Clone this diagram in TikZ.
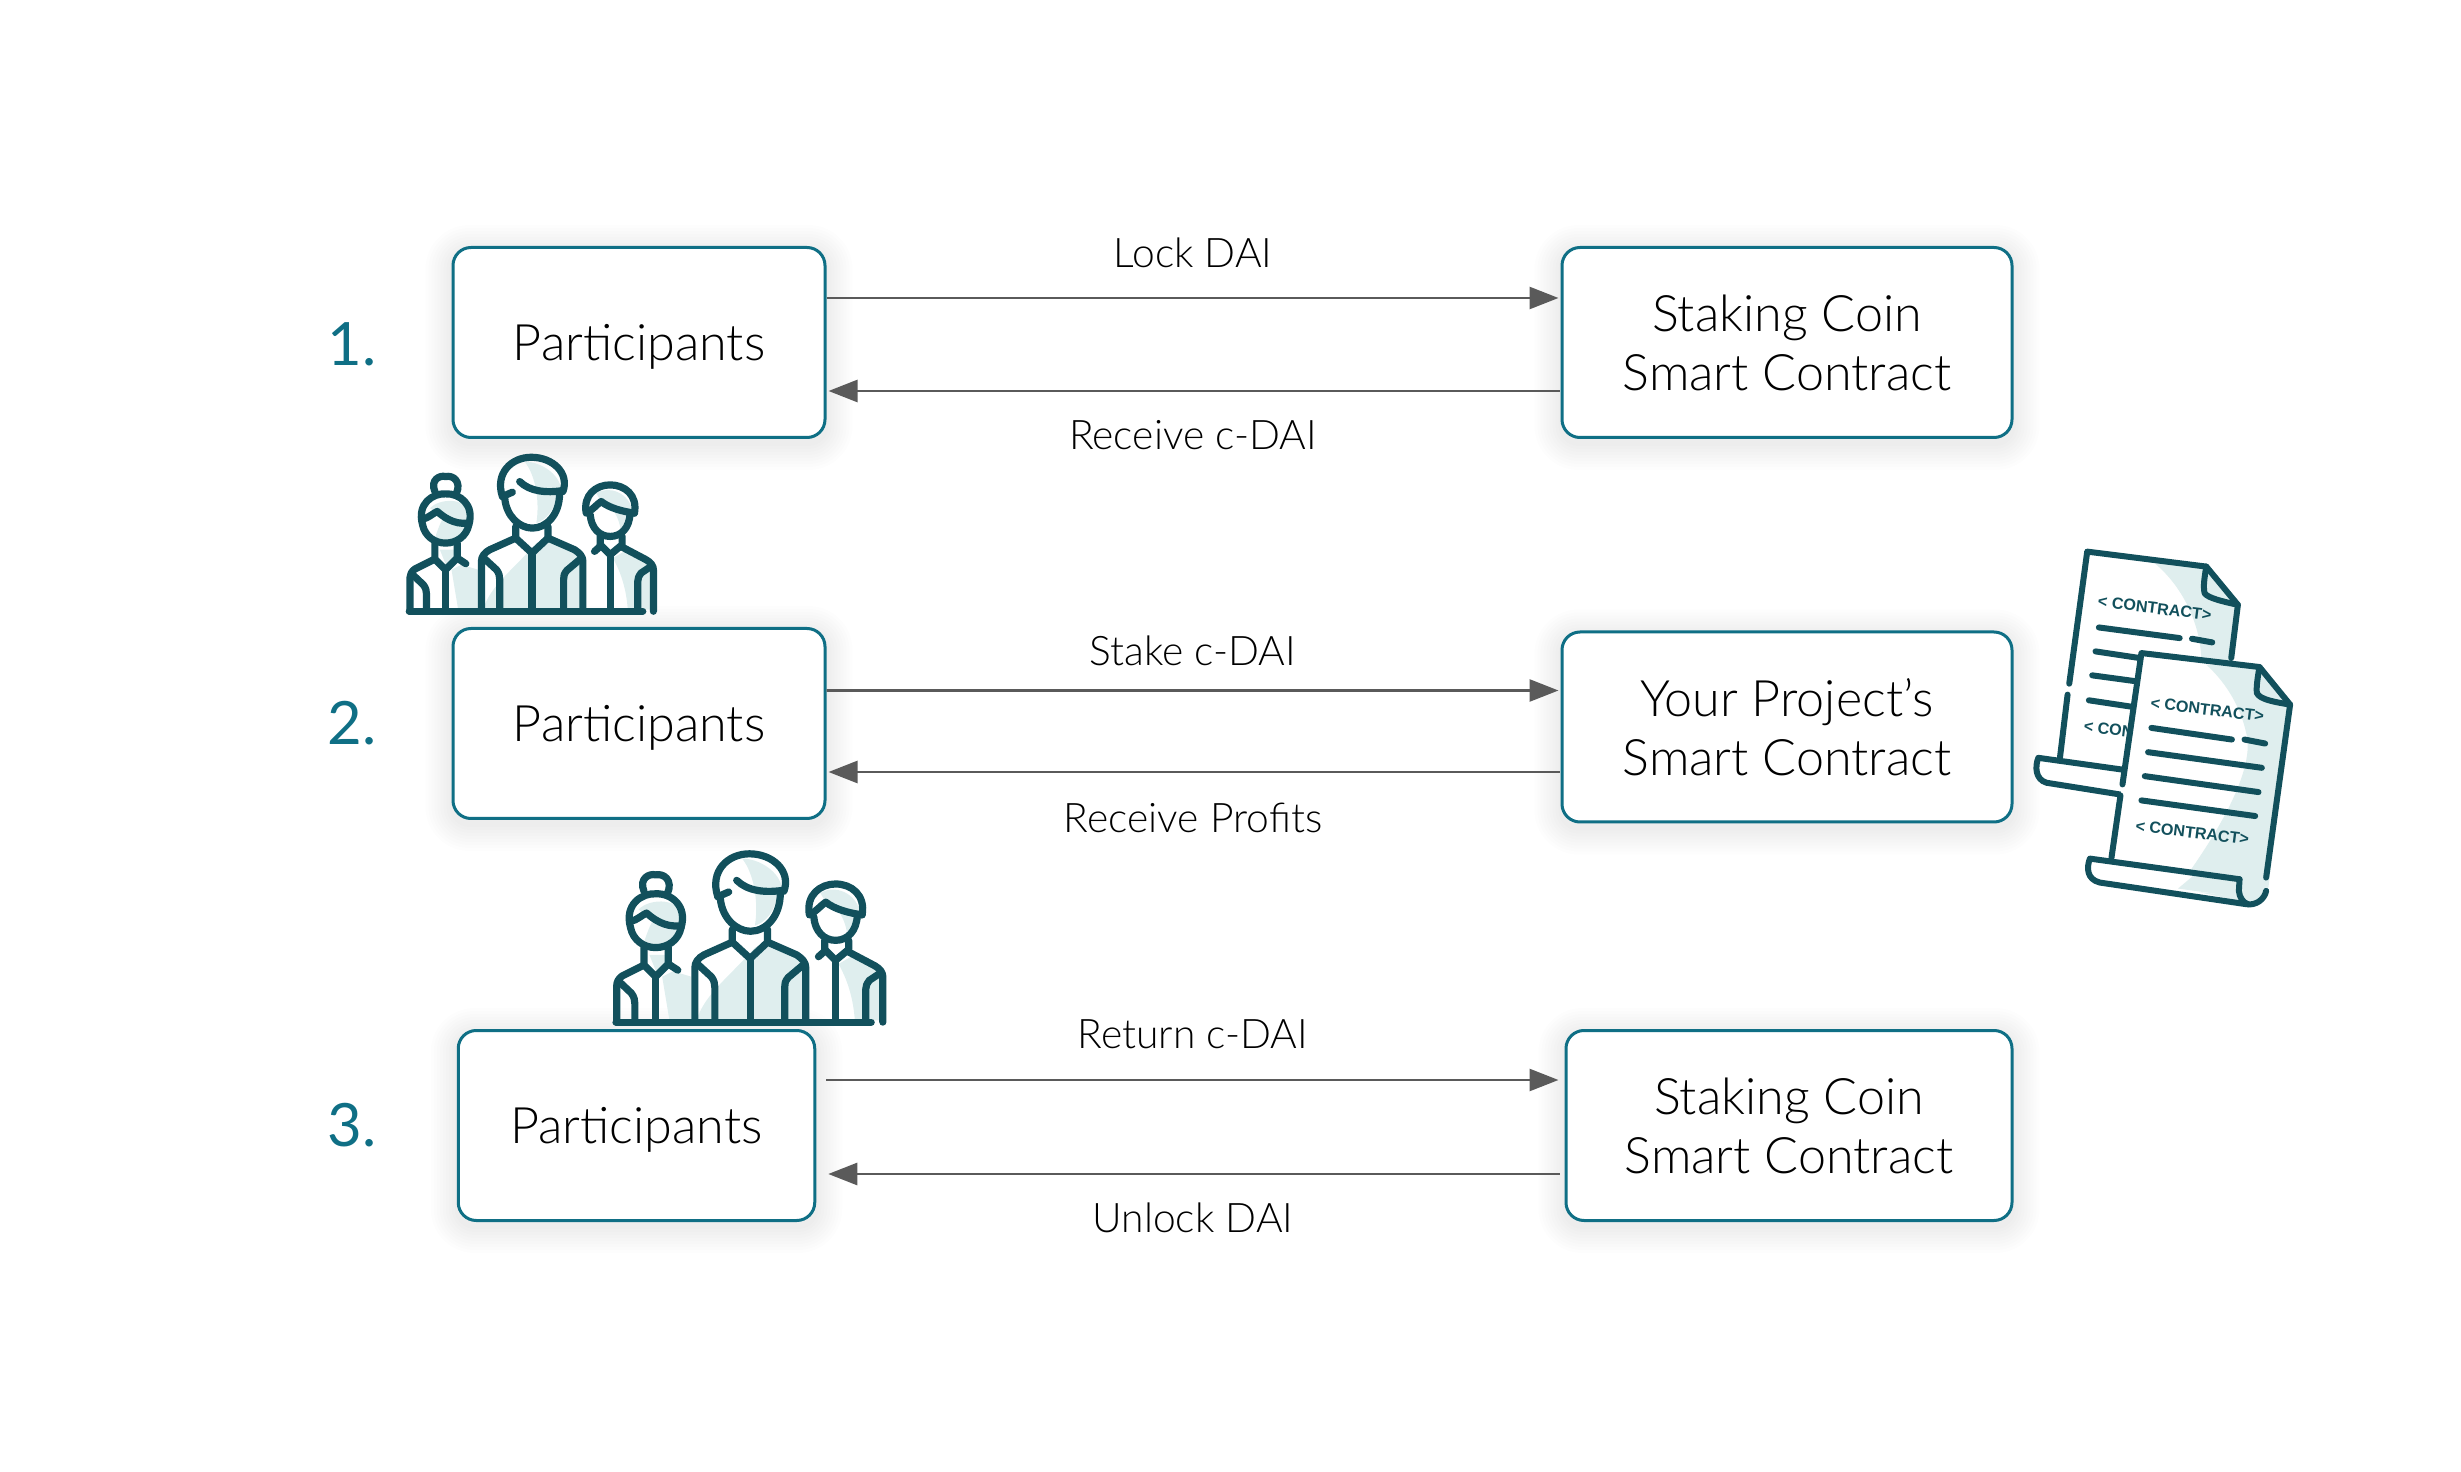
\documentclass[tikz,border=0pt]{standalone}
\usepackage{fontspec}
\setmainfont{Lato}[UprightFont=* Light]
\newfontfamily\numfont{Lato}
\newfontfamily\iconfont{Liberation Sans}
\usetikzlibrary{arrows.meta,backgrounds}

\definecolor{boxteal}{HTML}{0F6F85}
\definecolor{iconteal}{HTML}{12505C}
\definecolor{iconpale}{HTML}{DFEEEE}
\definecolor{arrowgrey}{HTML}{5A5A5A}

\tikzset{
	partybox/.style={draw=boxteal, line width=0.03cm, fill=white, rounded corners=0.18cm, minimum height=1.90cm, inner sep=0pt, align=center, font=\fontsize{14.3}{16.8}\selectfont},
	partyone/.style={partybox, text depth=0pt},
	stepnum/.style={text=boxteal, font=\numfont\fontsize{17}{20}\selectfont},
	flowlabel/.style={font=\fontsize{11.6}{14}\selectfont},
	flow/.style={draw=arrowgrey, line width=0.027cm, -{Triangle[length=0.29cm,width=0.22cm]}, arrowgrey},
	iconline/.style={draw=iconteal, line width=0.072cm, line cap=round, line join=round},
	iconbit/.style={iconline, line width=0.06cm},
	iconxy/.style={x=0.003333cm, y=-0.003333cm},
	icontext/.style={text=iconteal, rotate=-7, inner sep=0pt, font=\iconfont\bfseries\fontsize{4.6}{5}\selectfont},
	pics/people/.style={code={
		\begin{scope}[iconxy]
			% pale patches
			\fill[iconpale] (435,95) .. controls (480,95) and (540,130) .. (545,180) -- (530,200) .. controls (525,240) and (500,270) .. (470,280) .. controls (480,220) and (470,140) .. (435,95) -- cycle;
			\fill[iconpale] (505,325) -- (590,360) -- (610,400) -- (610,540) -- (310,540) .. controls (330,470) and (400,420) .. (470,340) -- cycle;
			\fill[iconpale] (150,235) .. controls (180,205) and (250,205) .. (265,240) -- (265,290) .. controls (255,320) and (200,345) .. (160,340) .. controls (170,310) and (180,280) .. (190,265) -- cycle;
			\fill[iconpale] (180,360) -- (225,360) -- (225,400) -- (200,410) -- cycle;
			\fill[iconpale] (215,420) -- (245,405) -- (295,420) -- (295,540) -- (235,540) -- cycle;
			\fill[iconpale] (650,190) .. controls (690,165) and (750,190) .. (760,245) -- (700,235) -- (665,215) -- cycle;
			\fill[iconpale] (700,240) -- (745,250) .. controls (745,280) and (735,305) .. (725,320) .. controls (725,290) and (715,260) .. (700,240) -- cycle;
			\fill[iconpale] (700,385) -- (735,365) -- (810,400) -- (815,540) -- (745,540) .. controls (740,470) and (720,420) .. (700,385) -- cycle;
			% woman
			\draw[iconline] (165,185) .. controls (150,150) and (180,135) .. (197,140) .. controls (220,135) and (245,155) .. (230,190);
			\draw[iconline] (128,285) .. controls (110,220) and (160,190) .. (197,192) .. controls (240,190) and (285,225) .. (267,285);
			\draw[iconline] (128,268) .. controls (145,265) and (160,250) .. (172,245) .. controls (190,260) and (220,285) .. (265,280);
			\draw[iconline] (128,285) .. controls (135,320) and (165,340) .. (197,340) .. controls (230,340) and (260,320) .. (267,285);
			\draw[iconline] (165,340) -- (165,388) -- (197,420) -- (232,385) -- (232,340);
			\draw[iconline] (232,385) -- (258,402);
			\draw[iconline] (165,388) -- (105,418) .. controls (95,425) and (90,435) .. (90,445) -- (90,545);
			\draw[iconline] (95,432) -- (130,465) .. controls (138,475) and (140,485) .. (140,495) -- (140,545);
			\draw[iconline] (197,420) -- (197,545);
			% man in the middle
			\draw[iconline] (368,200) .. controls (345,130) and (395,82) .. (455,82) .. controls (520,82) and (570,130) .. (550,185);
			\draw[iconline] (420,155) .. controls (450,185) and (500,190) .. (550,182);
			\draw[iconline] (368,200) -- (398,187);
			\draw[iconline] (375,205) .. controls (380,260) and (420,295) .. (458,295) .. controls (500,295) and (540,255) .. (540,190);
			\draw[iconline] (408,290) -- (408,325) -- (457,370) -- (505,325) -- (505,290);
			\draw[iconline] (408,325) -- (330,360) .. controls (315,368) and (305,380) .. (305,395) -- (305,545);
			\draw[iconline] (505,325) -- (585,360) .. controls (600,370) and (610,380) .. (610,395) -- (610,545);
			\draw[iconline] (312,385) -- (350,420) .. controls (358,430) and (360,440) .. (360,450) -- (360,545);
			\draw[iconline] (600,390) -- (562,422) .. controls (553,432) and (552,440) .. (552,450) -- (552,545);
			\draw[iconline] (457,370) -- (457,545);
			% man on the right
			\draw[iconline] (620,250) .. controls (610,195) and (650,165) .. (692,165) .. controls (735,165) and (775,195) .. (765,250);
			\draw[iconline] (622,248) .. controls (640,240) and (650,225) .. (665,215) .. controls (690,235) and (730,245) .. (765,250);
			\draw[iconline] (632,255) .. controls (635,295) and (660,320) .. (692,320) .. controls (725,320) and (750,295) .. (752,250);
			\draw[iconline] (645,365) -- (662,350) -- (662,320);
			\draw[iconline] (662,345) -- (692,375) -- (728,345) -- (728,320);
			\draw[iconline] (728,352) -- (800,390) .. controls (815,398) and (822,410) .. (822,420) -- (822,545);
			\draw[iconline] (815,410) -- (785,430) .. controls (778,440) and (775,445) .. (775,455) -- (775,545);
			\draw[iconline] (692,375) -- (692,545);
			% floor
			\draw[iconline] (88,545) -- (790,545);
		\end{scope}
	}},
	pics/contracts/.style={code={
		\begin{scope}[iconxy]
			% back sheet
			\fill[white] (172,65) -- (530,110) -- (625,225) -- (600,400) -- (280,790) -- (50,760) -- (25,735) -- (25,685) -- (90,690) -- cycle;
			\fill[iconpale] (375,100) -- (530,110) -- (625,225) -- (605,395) -- (515,395) .. controls (515,300) and (470,180) .. (375,100) -- cycle;
			\draw[iconbit] (118,462) -- (172,65) -- (530,110) -- (625,225) -- (605,385);
			\draw[iconbit] (113,495) -- (90,685);
			\draw[iconbit] (530,110) .. controls (525,140) and (520,170) .. (525,190) .. controls (535,205) and (580,215) .. (625,225);
			\draw[iconbit] (275,720) -- (25,685) .. controls (15,710) and (15,750) .. (50,760) -- (270,795);
			\draw[iconbit] (207,293) -- (450,325) (487,327) -- (548,338);
			\draw[iconbit] (197,365) -- (330,385) (187,437) -- (320,455) (177,512) -- (310,532);
			\node[icontext] (backtop) at (375,235) {< CONTRACT>};
			\node[icontext, anchor=west] (backbottom) at (160,590) {< CON};
			% front sheet
			\fill[white] (335,370) -- (690,412) -- (782,525) -- (710,1100) -- (650,1125) -- (210,1060) -- (180,1040) -- (180,988) -- (245,985) -- cycle;
			\fill[iconpale] (530,405) -- (690,412) -- (782,525) -- (715,1090) -- (660,1122) -- (445,1075) .. controls (560,920) and (680,720) .. (650,610) .. controls (630,520) and (580,450) .. (530,405) -- cycle;
			\fill[white] (180,988) -- (630,1050) -- (625,1100) -- (210,1060) -- (180,1040) -- cycle;
			\fill[iconpale] (500,1032) -- (630,1050) -- (625,1103) -- (445,1078) -- cycle;
			\draw[iconbit] (278,765) -- (335,370) -- (690,412) -- (782,525) -- (710,1045);
			\draw[iconbit] (272,798) -- (245,985);
			\draw[iconbit] (690,412) .. controls (685,440) and (680,470) .. (682,490) .. controls (690,510) and (740,518) .. (782,525);
			\draw[iconbit] (630,1050) -- (180,988) .. controls (170,1015) and (170,1050) .. (210,1060) -- (650,1125) .. controls (680,1130) and (705,1110) .. (710,1085);
			\draw[iconbit] (630,1050) -- (628,1085) .. controls (630,1105) and (640,1120) .. (655,1125);
			\draw[iconbit] (365,595) -- (607,630) (645,630) -- (707,642);
			\draw[iconbit] (355,668) -- (697,715) (345,740) -- (687,788) (335,813) -- (677,860);
			\node[icontext] (fronttop) at (533,540) {< CONTRACT>};
			\node[icontext] (frontbottom) at (488,910) {< CONTRACT>};
		\end{scope}
	}}
}

\newcommand{\softshade}[1]{
	\foreach \s in {0.02,0.05,...,0.26}
		\fill[black, opacity=0.007, rounded corners={(0.18+\s)*1cm}] ([shift={(-\s,-\s-0.05)}]#1.south west) rectangle ([shift={(\s,\s-0.05)}]#1.north east);
}

\begin{document}
\begin{tikzpicture}
	\useasboundingbox (0,0) rectangle (24.61,14.71);

	\node (num1) [stepnum] at (3.52,11.27) {1.};
	\node (num2) [stepnum] at (3.52,7.475) {2.};
	\node (num3) [stepnum] at (3.52,3.46) {3.};

	\node (part1) [partyone, minimum width=3.72cm] at (6.39,11.285) {Participants};
	\node (coin1) [partybox, minimum width=4.50cm] at (17.87,11.285) {Staking Coin\\Smart Contract};
	\node (part2) [partyone, minimum width=3.72cm] at (6.39,7.475) {Participants};
	\node (proj2) [partybox, minimum width=4.50cm] at (17.87,7.44) {Your Project’s\\Smart Contract};
	\node (part3) [partyone, minimum width=3.565cm] at (6.365,3.455) {Participants};
	\node (coin3) [partybox, minimum width=4.46cm] at (17.89,3.455) {Staking Coin\\Smart Contract};

	\begin{pgfonlayer}{background}
		\softshade{part1} \softshade{coin1}
		\softshade{part2} \softshade{proj2}
		\softshade{part3} \softshade{coin3}
	\end{pgfonlayer}

	\draw[flow] ([xshift=0cm,yshift=0.445cm]part1.east) -- ([xshift=-0.02cm,yshift=0.445cm]coin1.west);
	\draw[flow] ([xshift=-0.01cm,yshift=-0.485cm]coin1.west) -- ([xshift=0.02cm,yshift=-0.485cm]part1.east);
	\draw[flow] ([xshift=0cm,yshift=0.33cm]part2.east) -- ([xshift=-0.02cm,yshift=0.365cm]proj2.west);
	\draw[flow] ([xshift=-0.01cm,yshift=-0.45cm]proj2.west) -- ([xshift=0.02cm,yshift=-0.485cm]part2.east);
	\draw[flow] ([xshift=0.1cm,yshift=0.455cm]part3.east) -- ([xshift=-0.06cm,yshift=0.455cm]coin3.west);
	\draw[flow] ([xshift=-0.05cm,yshift=-0.485cm]coin3.west) -- ([xshift=0.12cm,yshift=-0.485cm]part3.east);

	\node (lock) [flowlabel] at (11.93,12.18) {Lock DAI};
	\node (recv) [flowlabel] at (11.93,10.36) {Receive c-DAI};
	\node (stake) [flowlabel] at (11.93,8.20) {Stake c-DAI};
	\node (profit) [flowlabel] at (11.93,6.53) {Receive Profits};
	\node (return) [flowlabel] at (11.93,4.37) {Return c-DAI};
	\node (unlock) [flowlabel] at (11.93,2.53) {Unlock DAI};

	\pic at (3.80,10.41) {people};
	\pic[scale=1.093] at (5.84,6.47) {people};
	\pic at (20.30,9.41) {contracts};
\end{tikzpicture}
\end{document}
